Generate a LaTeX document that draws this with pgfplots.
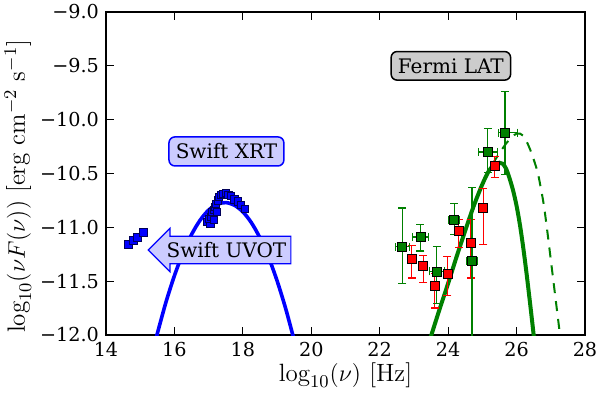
\documentclass[border=0pt]{standalone}
\usepackage{pgfplots}
\usepackage{pgfplotstable}
\usepackage{fontspec}
\pgfplotsset{compat=1.18}
\usetikzlibrary{shapes.arrows}
\newfontfamily\dejavu{DejaVu Serif}
\definecolor{mplgreen}{HTML}{008000}
\definecolor{mplblue}{HTML}{0000FF}
\definecolor{mplred}{HTML}{FF0000}
\definecolor{boxblue}{HTML}{CCCCFF}
\definecolor{boxgray}{HTML}{CCCCCC}

% Swift UVOT + XRT
\pgfplotstableread{
x y
14.66 -11.16
14.80 -11.12
14.92 -11.09
15.10 -11.05
}\uvot
\pgfplotstableread{
x y
16.95 -10.95
17.05 -10.97
17.02 -10.92
17.08 -10.90
17.10 -10.86
17.15 -10.93
17.15 -10.84
17.18 -10.81
17.25 -10.86
17.22 -10.78
17.26 -10.75
17.30 -10.72
17.35 -10.70
17.42 -10.69
17.50 -10.68
17.58 -10.70
17.66 -10.71
17.75 -10.74
17.85 -10.76
17.95 -10.79
18.05 -10.83
}\xrt
% Fermi LAT, two epochs: x y exm exp eyp eym
\pgfplotstableread{
x y exm exp eyp eym
22.66 -11.18 0.21 0.21 0.36 0.34
23.19 -11.09 0.23 0.23 0.12 0.13
23.67 -11.41 0.22 0.22 0.23 0.30
24.18 -10.93 0.16 0.16 0.15 0.14
24.70 -11.31 0.15 0.15 0.68 1.00
25.16 -10.30 0.28 0.28 0.22 0.19
25.66 -10.12 0.19 0.37 0.38 0.39
}\latgreen
\pgfplotstableread{
x y exm exp eyp eym
22.94 -11.29 0.10 0.10 0.12 0.18
23.27 -11.36 0.10 0.10 0.10 0.15
23.61 -11.54 0.10 0.10 0.11 0.21
23.98 -11.43 0.10 0.10 0.16 0.20
24.31 -11.03 0.10 0.10 0.10 0.16
24.66 -11.14 0.10 0.10 0.21 0.33
25.03 -10.82 0.10 0.10 0.18 0.34
25.36 -10.43 0.10 0.10 0.09 0.11
}\latred

\begin{document}
\begin{tikzpicture}
\path[use as bounding box] (-53pt,-28.5pt) rectangle (247pt,167.5pt);
\begin{axis}[
  scale only axis,
  width=239.5pt,height=161.5pt,
  xmin=14,xmax=28,ymin=-12,ymax=-9,
  xtick={14,16,...,28},
  xticklabels={14,16,18,20,22,24,26,28},
  ytick={-12,-11.5,...,-9},
  yticklabels={−12.0,−11.5,−11.0,−10.5,−10.0,−9.5,−9.0},
  minor tick num=0,
  tick align=inside,
  major tick length=4pt,
  every tick/.style={black,line width=0.5pt},
  axis line style={black,line width=0.8pt},
  tick label style={font=\dejavu\fontsize{9.6}{11}\selectfont},
  xlabel={$\log_{10}(\nu)$ [Hz]},
  ylabel={$\log_{10}(\nu F(\nu))$ [erg cm$^{-2}$ s$^{-1}$]},
  label style={font=\fontsize{12.5}{14}\selectfont},
  x label style={at={(axis description cs:0.5,-0.125)},anchor=center},
  y label style={at={(axis description cs:-0.184,0.46)},anchor=center},
]
% model curves
\addplot[mplblue,line width=1.8pt,smooth] coordinates {
(15.40,-12.113) (15.50,-11.987) (15.75,-11.698) (16.00,-11.449)
(16.25,-11.238) (16.50,-11.067) (16.75,-10.934) (17.00,-10.840)
(17.25,-10.786) (17.50,-10.770) (17.75,-10.794) (18.00,-10.856)
(18.25,-10.957) (18.50,-11.098) (18.75,-11.277) (19.00,-11.496)
(19.25,-11.753) (19.50,-12.049) (19.60,-12.179)
};
\addplot[mplgreen,line width=1pt,smooth,dash pattern=on 5pt off 4pt] coordinates {
(24.50,-11.03) (24.75,-10.80) (25.00,-10.60) (25.25,-10.44)
(25.50,-10.31) (25.75,-10.20) (26.00,-10.13) (26.20,-10.15)
(26.40,-10.28) (26.60,-10.47) (26.70,-10.62) (26.80,-10.80)
(26.90,-11.04) (27.00,-11.30) (27.10,-11.56) (27.20,-11.82)
(27.27,-12.00) (27.30,-12.08)
};
\addplot[mplgreen,line width=2pt,smooth] coordinates {
(23.45,-12.06) (23.51,-12.00) (23.75,-11.76) (24.00,-11.52)
(24.25,-11.27) (24.50,-11.03) (24.75,-10.80) (25.00,-10.60)
(25.20,-10.47) (25.35,-10.42) (25.50,-10.40) (25.60,-10.41)
(25.70,-10.46) (25.80,-10.55) (25.90,-10.66) (26.00,-10.80)
(26.10,-10.98) (26.20,-11.20) (26.30,-11.45) (26.40,-11.72)
(26.50,-12.00) (26.55,-12.14)
};
% Swift data
\addplot[only marks,mark=square*,mark size=2pt,
  mark options={fill=mplblue,draw=blue!35!black,line width=0.4pt}]
  table[x=x,y=y] {\uvot};
\addplot[only marks,mark=square*,mark size=1.8pt,
  mark options={fill=mplblue,draw=blue!35!black,line width=0.4pt}]
  table[x=x,y=y] {\xrt};
% Fermi data
\addplot[only marks,mark=square*,mark size=2.25pt,
  mark options={fill=mplred,draw=black,line width=0.4pt},
  error bars/.cd,
  x dir=both,x explicit,y dir=both,y explicit,
  error bar style={mplred,line width=0.6pt},
  error mark options={rotate=90,mplred,mark size=2pt,line width=0.6pt}]
  table[x=x,y=y,x error plus=exp,x error minus=exm,
        y error plus=eyp,y error minus=eym] {\latred};
\addplot[only marks,mark=square*,mark size=2.25pt,
  mark options={fill=mplgreen,draw=black,line width=0.4pt},
  error bars/.cd,
  x dir=both,x explicit,y dir=both,y explicit,
  error bar style={mplgreen,line width=0.6pt},
  error mark options={rotate=90,mplgreen,mark size=2pt,line width=0.6pt}]
  table[x=x,y=y,x error plus=exp,x error minus=exm,
        y error plus=eyp,y error minus=eym] {\latgreen};
% labels
\node[draw=mplblue,fill=boxblue,rounded corners=3pt,line width=0.75pt,
  inner xsep=3.4pt,inner ysep=3.4pt,font=\dejavu\fontsize{10}{12}\selectfont]
  at (axis cs:17.52,-10.295) {Swift XRT};
\node[draw=black,fill=boxgray,rounded corners=3pt,line width=0.75pt,
  inner xsep=3.4pt,inner ysep=3.4pt,font=\dejavu\fontsize{10}{12}\selectfont]
  at (axis cs:24.08,-9.50) {Fermi LAT};
\node[single arrow,shape border rotate=180,draw=mplblue,fill=boxblue,
  line width=0.6pt,inner xsep=2pt,inner ysep=2.7pt,
  single arrow head extend=4pt,
  font=\dejavu\fontsize{10}{12}\selectfont]
  at (axis cs:17.52,-11.21) {Swift UVOT};
\end{axis}
\end{tikzpicture}
\end{document}
